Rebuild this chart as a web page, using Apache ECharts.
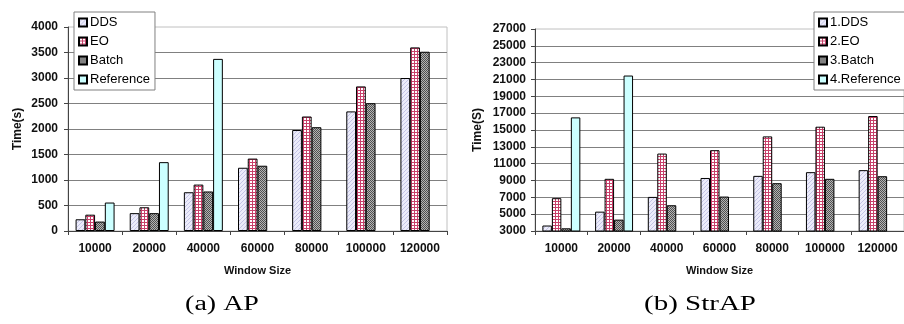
<!DOCTYPE html>
<html>
<head>
<meta charset="utf-8">
<script src="https://cdn.jsdelivr.net/npm/echarts@6/dist/echarts.min.js"></script>
<style>
html,body{margin:0;padding:0;background:#fff;}
#chart{width:904px;height:324px;}
</style>
</head>
<body>
<div id="chart"></div>
<script>
// ---- data ----
const categories = ['10000', '20000', '40000', '60000', '80000', '100000', '120000'];

const apNames = ['DDS', 'EO', 'Batch', 'Reference'];
const apDDS = [230, 350, 760, 1240, 1980, 2345, 3000];
const apEO = [320, 465, 910, 1420, 2245, 2835, 3600];
const apBatch = [185, 350, 775, 1280, 2035, 2505, 3515];
const apReference = [558, 1350, 3375, null, null, null, null];

const strNames = ['1.DDS', '2.EO', '3.Batch', '4.Reference'];
const strDDS = [3650, 5300, 7050, 9300, 9550, 9990, 10230];
const strEO = [6900, 9200, 12200, 12600, 14240, 15390, 16660];
const strBatch = [3320, 4350, 6060, 7090, 8680, 9200, 9510];
const strReference = [16500, 21470, null, null, null, null, null];

const apTicks = { min: 0, max: 4000, interval: 500 };
const strTicks = { min: 3000, max: 27000, interval: 2000 };

const captions = ['(a) AP', '(b) StrAP'];

// ---- fill patterns ----
function makePattern(size, draw) {
  const c = document.createElement('canvas');
  c.width = size; c.height = size;
  const ctx = c.getContext('2d');
  draw(ctx, size);
  return { image: c, repeat: 'repeat' };
}
const patDDS = makePattern(4, (ctx, s) => {
  ctx.fillStyle = '#ececfa'; ctx.fillRect(0, 0, s, s);
  ctx.fillStyle = '#c4c4e6';
  for (let i = 0; i < s; i++) ctx.fillRect(i, s - 1 - i, 1, 1);
});
const patEO = makePattern(3, (ctx, s) => {
  ctx.fillStyle = '#ffffff'; ctx.fillRect(0, 0, s, s);
  ctx.fillStyle = '#c8406a';
  ctx.fillRect(0, 0, s, 1); ctx.fillRect(0, 0, 1, s);
});
const patBatch = makePattern(2, (ctx, s) => {
  ctx.fillStyle = '#b4b4b4'; ctx.fillRect(0, 0, s, s);
  ctx.fillStyle = '#505050';
  ctx.fillRect(0, 0, 1, 1); ctx.fillRect(1, 1, 1, 1);
});
const fillRef = '#ccffff';
const fills = [patDDS, patEO, patBatch, fillRef];

const font = 'Liberation Sans, Arial, sans-serif';

function makeSeries(names, values, axisIndex) {
  return names.map((n, i) => ({
    name: n,
    type: 'bar',
    xAxisIndex: axisIndex,
    yAxisIndex: axisIndex,
    data: values[i],
    barGap: '0%',
    barCategoryGap: '28%',
    itemStyle: { color: fills[i], borderColor: '#000', borderWidth: 1 },
    emphasis: { disabled: true },
    animation: false
  }));
}

function yAxisCfg(t, gridIndex, name, nameGap, margin) {
  return {
    type: 'value', gridIndex: gridIndex,
    min: t.min, max: t.max, interval: t.interval,
    name: name, nameLocation: 'middle', nameGap: nameGap,
    nameTextStyle: { fontFamily: font, fontSize: 12, fontWeight: 'bold', color: '#111' },
    axisLine: { show: true, lineStyle: { color: '#444', width: 1 } },
    axisTick: { show: true, length: 4, lineStyle: { color: '#444' } },
    axisLabel: { fontFamily: font, fontSize: 12, fontWeight: 'bold', color: '#111', margin: margin,
      formatter: v => String(v) },
    splitLine: { show: true, showMaxLine: false, lineStyle: { color: '#808080', width: 1 } }
  };
}
function xAxisCfg(gridIndex) {
  return {
    type: 'category', gridIndex: gridIndex, data: categories,
    name: 'Window Size', nameLocation: 'middle', nameGap: 34,
    nameTextStyle: { fontFamily: font, fontSize: 11, fontWeight: 'bold', color: '#111' },
    axisLine: { show: true, lineStyle: { color: '#444', width: 1 } },
    axisTick: { show: true, length: 4, lineStyle: { color: '#444' } },
    axisLabel: { fontFamily: font, fontSize: 12, fontWeight: 'bold', color: '#111', margin: 12, interval: 0 },
    splitLine: { show: false }
  };
}
function legendCfg(names, left) {
  return {
    data: names, orient: 'vertical', left: left, top: 12,
    itemWidth: 8, itemHeight: 8, itemGap: 6, icon: 'rect',
    padding: [4, 5, 4, 4],
    borderColor: '#808080', borderWidth: 1, backgroundColor: '#fff',
    textStyle: { fontFamily: font, fontSize: 13, color: '#000', padding: [0, 0, 0, -2] },
    selectedMode: false
  };
}

const serif = 'Liberation Serif, Times New Roman, serif';
const chart = echarts.init(document.getElementById('chart'), null, { renderer: 'canvas' });
chart.setOption({
  backgroundColor: '#fff',
  animation: false,
  graphic: [
    { type: 'text', x: 222, y: 305, scaleX: 1.4, silent: true,
      style: { text: captions[0], font: 'normal 20px ' + serif, fill: '#000', align: 'center', verticalAlign: 'middle' } },
    { type: 'text', x: 700, y: 305, scaleX: 1.45, silent: true,
      style: { text: captions[1], font: 'normal 20px ' + serif, fill: '#000', align: 'center', verticalAlign: 'middle' } }
  ],
  grid: [
    { left: 68, right: 457, top: 27, bottom: 93, show: true, borderColor: '#c0c0c0', borderWidth: 1, containLabel: false },
    { left: 535, right: -6, top: 29, bottom: 93, show: true, borderColor: '#c0c0c0', borderWidth: 1, containLabel: false }
  ],
  legend: [legendCfg(apNames, 74), legendCfg(strNames, 814)],
  xAxis: [xAxisCfg(0), xAxisCfg(1)],
  yAxis: [yAxisCfg(apTicks, 0, 'Time(s)', 44, 10), yAxisCfg(strTicks, 1, 'Time(S)', 51, 9)],
  series: makeSeries(apNames, [apDDS, apEO, apBatch, apReference], 0)
    .concat(makeSeries(strNames, [strDDS, strEO, strBatch, strReference], 1))
});
</script>
</body>
</html>
